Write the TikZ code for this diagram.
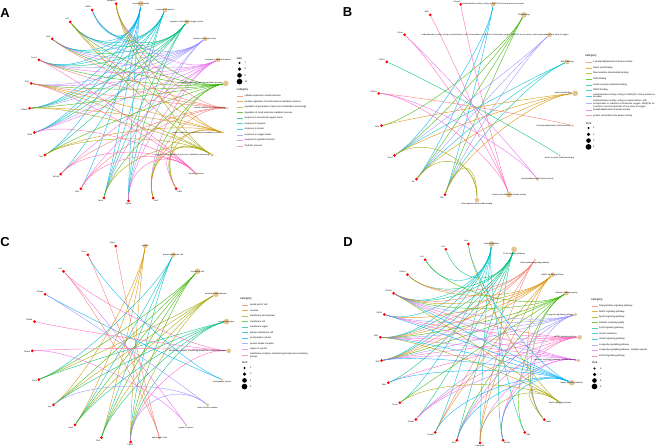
\documentclass[tikz,border=0pt]{standalone}
\usepackage{fontspec}
\setmainfont{Liberation Sans}
\usetikzlibrary{calc,backgrounds}

\definecolor{hA}{HTML}{F8766D}
\definecolor{hB}{HTML}{D89000}
\definecolor{hC}{HTML}{A3A500}
\definecolor{hD}{HTML}{39B600}
\definecolor{hE}{HTML}{00BF7D}
\definecolor{hF}{HTML}{00BFC4}
\definecolor{hG}{HTML}{00B0F6}
\definecolor{hH}{HTML}{9590FF}
\definecolor{hI}{HTML}{E76BF3}
\definecolor{hJ}{HTML}{FF62BC}
\definecolor{nodetan}{HTML}{E5C494}

\tikzset{
  gene/.style={circle, fill=red, inner sep=0pt, minimum size=3pt},
  cat/.style={circle, fill=nodetan, inner sep=0pt},
  genelbl/.style={font=\fontsize{2}{2.4}\selectfont, inner sep=0.3pt},
  catlbl/.style={font=\fontsize{2}{2.4}\selectfont, inner sep=0.3pt, align=center},
  edge/.style={line width=0.45pt, opacity=0.85},
  keyline/.style={line width=0.6pt, opacity=0.7},
  legtxt/.style={font=\fontsize{2.3}{2.8}\selectfont, anchor=west, inner sep=0pt, align=left},
  legtitle/.style={font=\fontsize{3}{3.6}\selectfont, anchor=west, inner sep=0pt},
  sizedot/.style={circle, fill=black, inner sep=0pt},
  panel/.style={font=\fontsize{13}{13}\selectfont\bfseries, inner sep=0pt},
}

\begin{document}
\begin{tikzpicture}[x=1pt,y=1pt]
\useasboundingbox (0,0) rectangle (669,447);

% ---- panel A: biological process ----
\node[panel] (lA) at (5,434) {A};
\coordinate (a-ctr) at (128.5,345);
\foreach \g [count=\i] in {Ppargc1a,Pik3r1,Irs2,Akt2,Foxo1,Sirt1,Prkaa2,Hif1a,Insr,Slc2a4,Pck1,Nos3,Ppara,Per2,Pdk4}{
  \pgfmathsetmacro\ang{97.2+14.4*(\i-1)}
  \node[gene, label={[genelbl]\ang:\g}] (a-g\i) at ([shift={(\ang:99)}]a-ctr) {};
}
\foreach \i/\r/\lp/\lx/\col/\txt/\gs in {
  1/3/center/0/hG/{response to insulin}/{2,3,4,5,7,8,9,11,12,13},
  2/2/center/0/hF/{response to hypoxia}/{2,3,4,5,7,8,10,12,13},
  3/2/center/0/hE/{response to decreased oxygen levels}/{2,3,4,5,7,8,9,12,13},
  4/2/center/0/hH/{response to oxygen levels}/{2,3,4,5,6,7,8,12,13},
  5/2/center/0/hI/{response to peptide hormone}/{1,4,5,6,8,10,11,13,14},
  6/3/left/0/hD/{regulation of small molecule metabolic process}/{1,3,4,5,6,7,9,12,14,15},
  7/0/left/0/hA/{cellular response to insulin stimulus}/{1,4,5,6,10,11,14},
  8/0/left/0/hB/{positive regulation of small molecule metabolic process}/{1,3,6,7,9,14,15},
  9/1/left/0/hC/{regulation of generation of precursor metabolites and energy}/{1,3,6,7,9,12,14,15},
  10/0/center/0/hJ/{rhythmic process}/{5,6,8,10,11,13,15}}{
  \pgfmathsetmacro\ang{82.8-14.4*(\i-1)}
  \pgfmathsetmacro\dia{2.4+1.1*\r}
  \node[cat, minimum size=\dia, label={[catlbl,xshift=\lx]\lp:\txt}] (a-c\i) at ([shift={(\ang:99)}]a-ctr) {};
  \begin{pgfonlayer}{background}
    \foreach \g in \gs
      \draw[edge,\col] (a-g\g) .. controls ($(a-g\g)!0.4!(a-ctr)$) and ($(a-c\i)!0.4!(a-ctr)$) .. (a-c\i);
  \end{pgfonlayer}
}
% legend A
\node[legtitle] (a-sz) at (236.5,389) {size};
\foreach \s/\r [count=\k] in {7/0,8/1,9/2,10/3}{
  \pgfmathsetmacro\dia{2.4+1.1*\r}
  \node[sizedot, minimum size=\dia] (a-d\k) at (239.5,{384-6.2*(\k-1)}) {};
  \node[legtxt] (a-v\k) at (244.5,{384-6.2*(\k-1)}) {\s};
}
\node[legtitle] (a-cat) at (236.5,357) {category};
\foreach \col/\txt [count=\k] in {hA/{cellular response to insulin stimulus},
  hB/{positive regulation of small molecule metabolic process},
  hC/{regulation of generation of precursor metabolites and energy},
  hD/{regulation of small molecule metabolic process},
  hE/{response to decreased oxygen levels},
  hF/{response to hypoxia}, hG/{response to insulin},
  hH/{response to oxygen levels}, hI/{response to peptide hormone},
  hJ/{rhythmic process}}{
  \pgfmathsetmacro\yy{351-5.55*(\k-1)}
  \draw[keyline,\col] (236.5,\yy) -- (242.5,\yy);
  \node[legtxt] (a-l\k) at (244.5,\yy) {\txt};
}

% ---- panel B: molecular function ----
\node[panel] (lB) at (347.5,435) {B};
\coordinate (b-ctr) at (477,345.5);
\foreach \g [count=\i] in {Prkaa2,Akt2,Prkcd,Pik3r1,Pik3ca,Mtor,Nos3,Por,Mtrr}{
  \pgfmathsetmacro\ang{99.47+18.947*(\i-1)}
  \node[gene, label={[genelbl]\ang:\g}] (b-g\i) at ([shift={(\ang:98.5)}]b-ctr) {};
}
\foreach \i/\r/\lp/\lx/\col/\txt/\gs in {
  1/2/center/0/hG/{oxidoreductase activity, acting on NAD(P)H, heme protein as acceptor}/{7,8,9},
  2/3/center/0/hD/{FMN binding}/{6,7,8,9},
  3/2/left/22/hH/{oxidoreductase activity, acting on paired donors, with incorporation or reduction of molecular oxygen, NAD(P)H as one donor, and incorporation of one atom of oxygen}/{7,8,9},
  4/2/center/0/hF/{NADP binding}/{7,8,9},
  5/3/left/0/hB/{amino acid binding}/{6,7,8,9},
  6/0/left/0/hA/{1-phosphatidylinositol-3-kinase activity}/{5},
  7/0/below/0/hE/{insulin receptor substrate binding}/{4},
  8/1/center/0/hI/{phosphatidylinositol 3-kinase activity}/{3,5},
  9/3/center/0/hJ/{protein serine/threonine kinase activity}/{1,2,3,5},
  10/2/below/0/hC/{flavin adenine dinucleotide binding}/{7,8,9}}{
  \pgfmathsetmacro\ang{80.53-18.947*(\i-1)}
  \pgfmathsetmacro\dia{2.4+1.1*\r}
  \node[cat, minimum size=\dia, label={[catlbl,xshift=\lx]\lp:\txt}] (b-c\i) at ([shift={(\ang:98.5)}]b-ctr) {};
  \begin{pgfonlayer}{background}
    \foreach \g in \gs
      \draw[edge,\col] (b-g\g) .. controls ($(b-g\g)!0.4!(b-ctr)$) and ($(b-c\i)!0.4!(b-ctr)$) .. (b-c\i);
  \end{pgfonlayer}
}
% legend B
\node[legtitle] (b-cat) at (585,391) {category};
\foreach \yy/\col/\txt [count=\k] in {385/hA/{1-phosphatidylinositol-3-kinase activity},
  379/hB/{amino acid binding}, 374/hC/{flavin adenine dinucleotide binding},
  368/hD/{FMN binding}, 362/hE/{insulin receptor substrate binding},
  357/hF/{NADP binding},
  351/hG/{oxidoreductase activity, acting on NAD(P)H, heme protein as\\acceptor},
  343.3/hH/{oxidoreductase activity, acting on paired donors, with\\incorporation or reduction of molecular oxygen, NAD(P)H as\\one donor, and incorporation of one atom of oxygen},
  337/hI/{phosphatidylinositol 3-kinase activity},
  331.3/hJ/{protein serine/threonine kinase activity}}{
  \draw[keyline,\col] (586,\yy) -- (591.5,\yy);
  \node[legtxt] (b-l\k) at (593,\yy) {\txt};
}
\node[legtitle] (b-sz) at (586,324) {size};
\foreach \s/\r [count=\k] in {1/0,2/1,3/2,4/3}{
  \pgfmathsetmacro\dia{2.4+1.1*\r}
  \node[sizedot, minimum size=\dia] (b-d\k) at (588.5,{319-6.3*(\k-1)}) {};
  \node[legtxt] (b-v\k) at (593,{319-6.3*(\k-1)}) {\s};
}

% ---- panel C: cellular component ----
\node[panel] (lC) at (5,205) {C};
\coordinate (c-ctr) at (130.5,103.5);
\foreach \g [count=\i] in {Ptpn1,Prkcz,Irs1,Prkaa1,Pik3cb,Pik3ca,Cav1,Insr,Nos3,Flot1,Pik3r1}{
  \pgfmathsetmacro\ang{98.571+17.143*(\i-1)}
  \node[gene, label={[genelbl]\ang:\g}] (c-g\i) at ([shift={(\ang:98.5)}]c-ctr) {};
}
\foreach \i/\r/\lp/\lx/\col/\txt/\gs in {
  1/2/center/0/hB/{caveola}/{8,9,10,11},
  2/2/center/0/hF/{plasma membrane raft}/{7,9,10,11},
  3/3/center/0/hD/{membrane raft}/{7,8,9,10,11},
  4/3/center/0/hC/{membrane microdomain}/{7,8,9,10,11},
  5/3/center/0/hE/{membrane region}/{7,8,9,10,11},
  6/2/left/0/hJ/{transferase complex, transferring phosphorus-containing groups}/{3,5,6,11},
  7/0/below/0/hG/{postsynaptic cytosol}/{2,4},
  8/1/below/0/hH/{protein kinase complex}/{4,8,11},
  9/0/below/0/hI/{region of cytosol}/{3,6},
  10/1/center/0/hA/{apical part of cell}/{1,2,3}}{
  \pgfmathsetmacro\ang{81.429-17.143*(\i-1)}
  \pgfmathsetmacro\dia{2.4+1.1*\r}
  \node[cat, minimum size=\dia, label={[catlbl,xshift=\lx]\lp:\txt}] (c-c\i) at ([shift={(\ang:98.5)}]c-ctr) {};
  \begin{pgfonlayer}{background}
    \foreach \g in \gs
      \draw[edge,\col] (c-g\g) .. controls ($(c-g\g)!0.4!(c-ctr)$) and ($(c-c\i)!0.4!(c-ctr)$) .. (c-c\i);
  \end{pgfonlayer}
}
% legend C
\node[legtitle] (c-cat) at (240,148) {category};
\foreach \yy/\col/\txt [count=\k] in {142/hA/{apical part of cell}, 136.5/hB/{caveola},
  131/hC/{membrane microdomain}, 125.5/hD/{membrane raft}, 120/hE/{membrane region},
  114.5/hF/{plasma membrane raft}, 109/hG/{postsynaptic cytosol},
  103.5/hH/{protein kinase complex}, 98/hI/{region of cytosol},
  91.5/hJ/{transferase complex, transferring phosphorus-containing\\groups}}{
  \draw[keyline,\col] (242,\yy) -- (247.5,\yy);
  \node[legtxt] (c-l\k) at (250,\yy) {\txt};
}
\node[legtitle] (c-sz) at (242,85) {size};
\foreach \s/\r [count=\k] in {2/0,3/1,4/2,5/3}{
  \pgfmathsetmacro\dia{2.4+1.1*\r}
  \node[sizedot, minimum size=\dia] (c-d\k) at (244.5,{79-6.2*(\k-1)}) {};
  \node[legtxt] (c-v\k) at (250,{79-6.2*(\k-1)}) {\s};
}

% ---- panel D: KEGG pathways ----
\node[panel] (lD) at (348,205) {D};
\coordinate (d-ctr) at (480,103.85);
\foreach \g [count=\i] in {Insr,Irs1,Irs2,Pik3ca,Pik3cb,Pik3r1,Akt1,Akt2,Mtor,Foxo1,Prkaa1,Prkaa2,Sirt1,Ppargc1a,Slc2a4,Pdk1,Ppara}{
  \pgfmathsetmacro\ang{96.667+13.333*(\i-1)}
  \node[gene, label={[genelbl]\ang:\g}] (d-g\i) at ([shift={(\ang:99.8)}]d-ctr) {};
}
\foreach \i/\r/\lp/\lx/\col/\txt/\gs in {
  1/3/center/0/hF/{Insulin resistance}/{3,5,6,7,8,10,12,14,16},
  2/3/below/0/hE/{FoxO signaling pathway}/{2,4,5,7,8,9,11,13,15},
  3/0/below/0/hA/{Adipocytokine signaling pathway}/{4,5,7,8,12,14},
  4/2/center/0/hB/{AMPK signaling pathway}/{4,5,6,7,8,12,14,17},
  5/2/center/0/hD/{Diabetic cardiomyopathy}/{3,5,7,8,10,13,16,17},
  6/1/left/0/hH/{Longevity regulating pathway}/{5,6,7,8,11,13,17},
  7/2/left/0/hJ/{mTOR signaling pathway}/{5,6,7,8,9,11,13,15},
  8/1/left/0/hI/{Longevity regulating pathway - multiple species}/{5,6,7,8,11,14,15},
  9/3/center/0/hG/{Insulin signaling pathway}/{1,5,6,7,8,9,12,13,15},
  10/0/center/0/hC/{Apelin signaling pathway}/{1,5,7,10,14,17}}{
  \pgfmathsetmacro\ang{83.333-13.333*(\i-1)}
  \pgfmathsetmacro\dia{2.4+1.1*\r}
  \node[cat, minimum size=\dia, label={[catlbl,xshift=\lx]\lp:\txt}] (d-c\i) at ([shift={(\ang:99.8)}]d-ctr) {};
  \begin{pgfonlayer}{background}
    \foreach \g in \gs
      \draw[edge,\col] (d-g\g) .. controls ($(d-g\g)!0.4!(d-ctr)$) and ($(d-c\i)!0.4!(d-ctr)$) .. (d-c\i);
  \end{pgfonlayer}
}
% legend D
\node[legtitle] (d-cat) at (591,147) {category};
\foreach \col/\txt [count=\k] in {hA/{Adipocytokine signaling pathway},
  hB/{AMPK signaling pathway}, hC/{Apelin signaling pathway},
  hD/{Diabetic cardiomyopathy}, hE/{FoxO signaling pathway},
  hF/{Insulin resistance}, hG/{Insulin signaling pathway},
  hH/{Longevity regulating pathway},
  hI/{Longevity regulating pathway - multiple species},
  hJ/{mTOR signaling pathway}}{
  \pgfmathsetmacro\yy{141-5.55*(\k-1)}
  \draw[keyline,\col] (592,\yy) -- (597.5,\yy);
  \node[legtxt] (d-l\k) at (599,\yy) {\txt};
}
\node[legtitle] (d-sz) at (592,85) {size};
\foreach \s/\r [count=\k] in {6/0,7/1,8/2,9/3}{
  \pgfmathsetmacro\dia{2.4+1.1*\r}
  \node[sizedot, minimum size=\dia] (d-d\k) at (594.5,{78.5-6*(\k-1)}) {};
  \node[legtxt] (d-v\k) at (600,{78.5-6*(\k-1)}) {\s};
}
\end{tikzpicture}
\end{document}
